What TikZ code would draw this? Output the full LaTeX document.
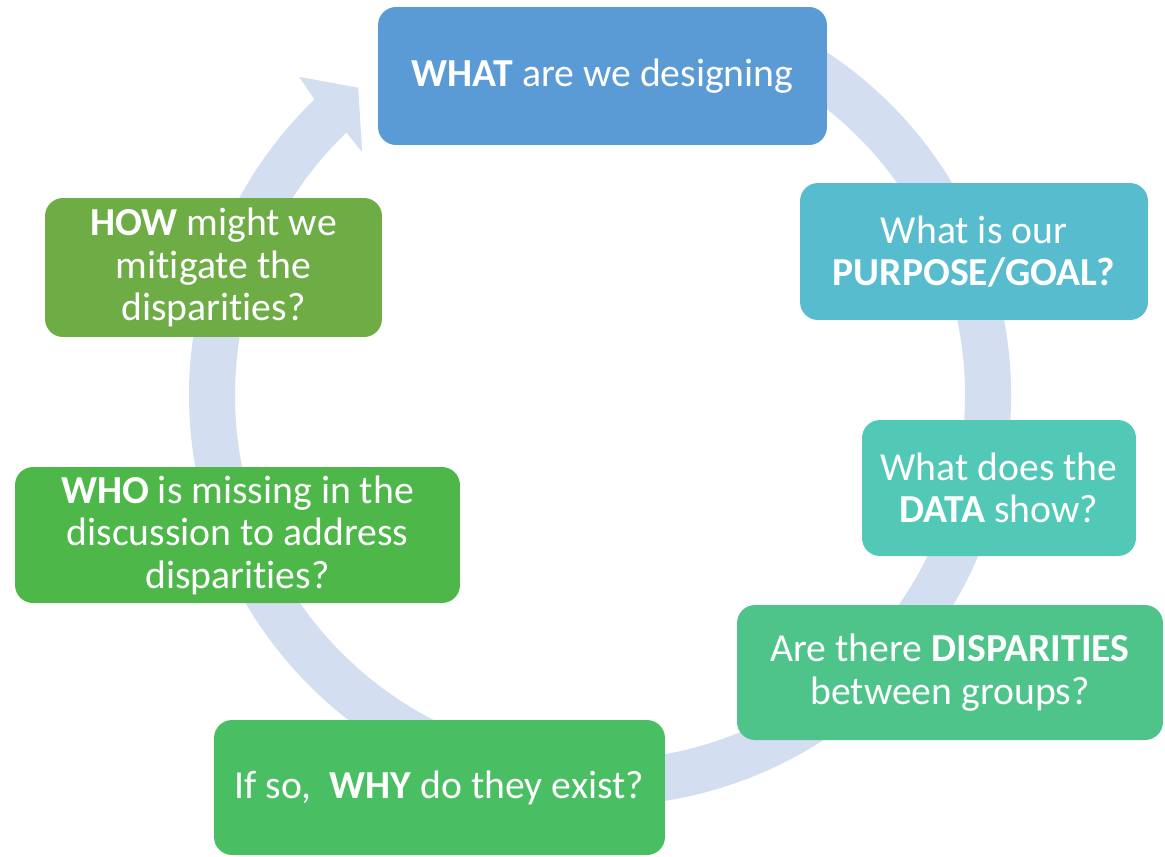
\documentclass[tikz,border=0pt]{standalone}
\usepackage{fontspec}
\setmainfont{Carlito}[Ligatures=NoCommon]
\usepackage{xcolor}
\usepackage{tikz}
\definecolor{ringcol}{HTML}{D3DEF0}
\definecolor{whatcol}{HTML}{5B9BD5}
\definecolor{purposecol}{HTML}{58BCCF}
\definecolor{datacol}{HTML}{52C9B6}
\definecolor{dispcol}{HTML}{4FC48A}
\definecolor{whycol}{HTML}{4ABE63}
\definecolor{whocol}{HTML}{4DB749}
\definecolor{howcol}{HTML}{6EAC46}
\tikzset{
    stepnode/.style = {align=center, inner sep=0pt, text centered, rectangle, rounded corners=0.36cm,
                       text=white, minimum height=2.72cm, font=\fontsize{22.6}{24.2}\selectfont},
    what_box/.style = {stepnode, fill=whatcol, minimum width=8.98cm, minimum height=2.76cm},
    purpose_box/.style = {stepnode, fill=purposecol, minimum width=6.96cm, minimum height=2.74cm},
    data_box/.style = {stepnode, fill=datacol, minimum width=5.48cm},
    disp_box/.style = {stepnode, fill=dispcol, minimum width=8.52cm, minimum height=2.70cm},
    why_box/.style = {stepnode, fill=whycol, minimum width=9.02cm, minimum height=2.70cm},
    who_box/.style = {stepnode, fill=whocol, minimum width=8.90cm},
    how_box/.style = {stepnode, fill=howcol, minimum width=6.74cm, minimum height=2.78cm}
}

\begin{document}
\begin{tikzpicture}[x=0.02cm, y=0.02cm]
    \useasboundingbox (0,0) rectangle (1165,-856);
    \begin{scope}[shift={(600,-395)}]
        \fill[ringcol] (65:411) arc[start angle=65, end angle=-226, radius=411]
            -- (-226.6:438) -- (-231.8:391) -- (-225.6:340) -- (-226:365)
            arc[start angle=-226, end angle=65, radius=365] -- cycle;
    \end{scope}
    \node [what_box] (what) at (602.5,-76) {\textbf{WHAT} are we designing};
    \node [purpose_box] (purpose) at (974,-251.5) {What is our\\ \textbf{PURPOSE/GOAL?}};
    \node [data_box] (data) at (999,-488) {What does the\\ \textbf{DATA} show?};
    \node [disp_box] (disparities) at (950,-672.5) {Are there \textbf{DISPARITIES}\\ between groups?};
    \node [why_box] (why) at (439.5,-787.5) {If so,\ \ \textbf{WHY} do they exist?};
    \node [who_box] (who) at (237.5,-535) {\textbf{WHO} is missing in the\\ discussion to address\\ disparities?};
    \node [how_box] (how) at (213.5,-267.5) {\textbf{HOW} might we\\ mitigate the\\ disparities?};
\end{tikzpicture}
\end{document}
